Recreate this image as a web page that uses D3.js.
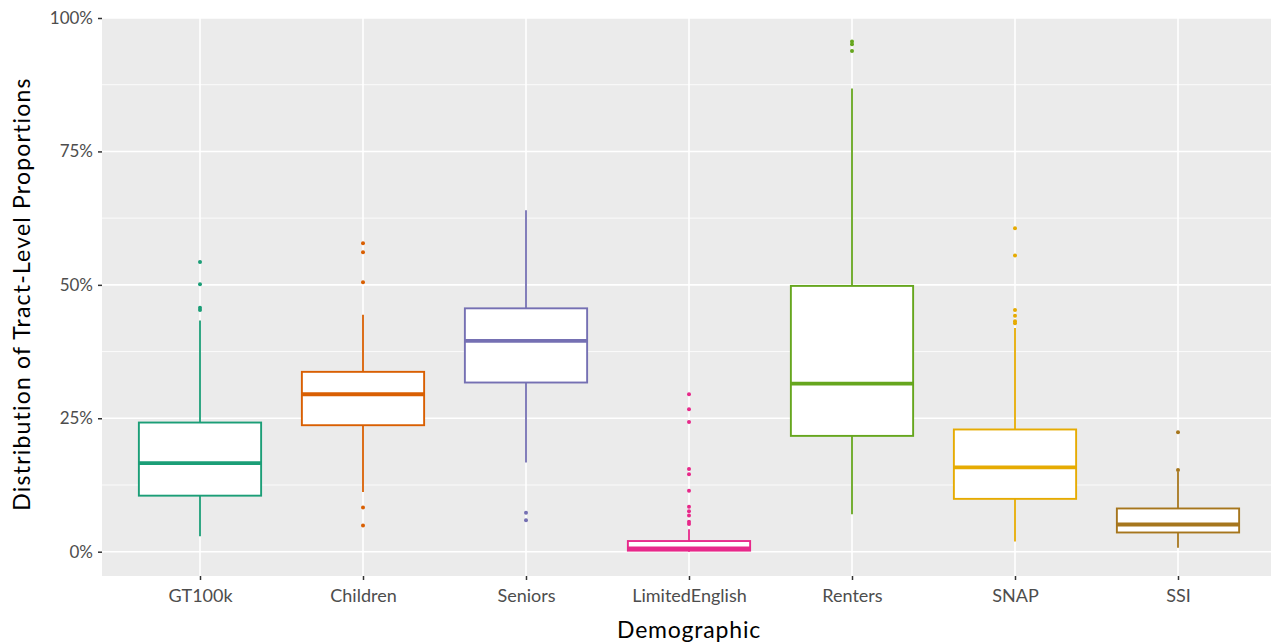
<!DOCTYPE html>
<html>
<head>
<meta charset="utf-8">
<script src="https://cdn.jsdelivr.net/npm/d3@7"></script>
<style>
  html, body { margin: 0; padding: 0; background: #fff; }
  svg { display: block; font-family: Lato, "Open Sans", sans-serif; }
</style>
</head>
<body>
<svg id="chart" width="1271" height="644"></svg>
<script>
// ---- data (proportions) ----
const categories = ["GT100k", "Children", "Seniors", "LimitedEnglish", "Renters", "SNAP", "SSI"];
const colors     = ["#1B9E77", "#D95F02", "#7570B3", "#E7298A", "#66A61E", "#E6AB02", "#A6761D"];
const whiskerLow = [0.029, 0.112, 0.167, 0.000, 0.070, 0.019, 0.0075];
const q1         = [0.105, 0.237, 0.317, 0.002, 0.217, 0.099, 0.036];
const median     = [0.166, 0.295, 0.395, 0.006, 0.315, 0.158, 0.051];
const q3         = [0.242, 0.337, 0.456, 0.020, 0.498, 0.229, 0.081];
const whiskerHigh= [0.433, 0.444, 0.640, 0.042, 0.868, 0.419, 0.150];
const outliers   = [
  [0.543, 0.501, 0.457, 0.453],
  [0.578, 0.561, 0.505, 0.083, 0.049],
  [0.073, 0.059],
  [0.295, 0.267, 0.243, 0.155, 0.145, 0.114, 0.084, 0.076, 0.068, 0.056, 0.052],
  [0.956, 0.951, 0.938],
  [0.606, 0.555, 0.453, 0.442, 0.432, 0.428],
  [0.224, 0.153]
];
const yTicks = [0, 0.25, 0.5, 0.75, 1];
const yMinor = [0.125, 0.375, 0.625, 0.875];

// ---- layout ----
const svg = d3.select("#chart");
const panel = { left: 102, right: 1276, top: 18, bottom: 576 };

const x = d3.scalePoint().domain(categories).range([200, 1178]);
const y = d3.scaleLinear().domain([0, 1]).range([551.7, 18]);
const boxW = x.step() * 0.75;

// panel background
svg.append("rect")
  .attr("x", panel.left).attr("y", panel.top)
  .attr("width", panel.right - panel.left).attr("height", panel.bottom - panel.top)
  .attr("fill", "#EBEBEB");

const grid = svg.append("g");
grid.selectAll(".minor").data(yMinor).join("line")
  .attr("x1", panel.left).attr("x2", panel.right)
  .attr("y1", d => y(d)).attr("y2", d => y(d))
  .attr("stroke", "#fff").attr("stroke-width", 0.8);
grid.selectAll(".major").data(yTicks).join("line")
  .attr("x1", panel.left).attr("x2", panel.right)
  .attr("y1", d => y(d)).attr("y2", d => y(d))
  .attr("stroke", "#fff").attr("stroke-width", 1.6);
grid.selectAll(".vx").data(categories).join("line")
  .attr("x1", d => x(d)).attr("x2", d => x(d))
  .attr("y1", panel.top).attr("y2", panel.bottom)
  .attr("stroke", "#fff").attr("stroke-width", 1.6);

// boxes
const idx = d3.range(categories.length);
const g = svg.append("g");
idx.forEach(i => {
  const cx = x(categories[i]);
  const c = colors[i];
  // whiskers
  g.append("line").attr("x1", cx).attr("x2", cx)
    .attr("y1", y(q3[i])).attr("y2", y(whiskerHigh[i]))
    .attr("stroke", c).attr("stroke-width", 1.8);
  g.append("line").attr("x1", cx).attr("x2", cx)
    .attr("y1", y(q1[i])).attr("y2", y(whiskerLow[i]))
    .attr("stroke", c).attr("stroke-width", 1.8);
  // box
  g.append("rect")
    .attr("x", cx - boxW / 2).attr("width", boxW)
    .attr("y", y(q3[i])).attr("height", Math.max(0, y(q1[i]) - y(q3[i])))
    .attr("fill", "#fff").attr("stroke", c).attr("stroke-width", 1.9);
  // median
  g.append("line")
    .attr("x1", cx - boxW / 2).attr("x2", cx + boxW / 2)
    .attr("y1", y(median[i])).attr("y2", y(median[i]))
    .attr("stroke", c).attr("stroke-width", 3.8);
  // outliers
  g.selectAll(null).data(outliers[i]).join("circle")
    .attr("cx", cx).attr("cy", d => y(d)).attr("r", 2)
    .attr("fill", c);
});

// y axis
const yAxis = svg.append("g").attr("transform", `translate(${panel.left},0)`)
  .call(d3.axisLeft(y).tickValues(yTicks).tickFormat(d3.format(".0%")).tickSize(4).tickPadding(5));
yAxis.select(".domain").remove();
yAxis.selectAll(".tick line").attr("stroke", "#333").attr("stroke-width", 1.5);
yAxis.selectAll(".tick text").attr("fill", "#4D4D4D").style("font-size", "17px")
  .style("font-family", "Lato, sans-serif");

// x axis
const xAxis = svg.append("g").attr("transform", `translate(0,${panel.bottom})`)
  .call(d3.axisBottom(x).tickSize(4).tickPadding(9));
xAxis.select(".domain").remove();
xAxis.selectAll(".tick line").attr("stroke", "#333").attr("stroke-width", 1.5);
xAxis.selectAll(".tick text").attr("fill", "#4D4D4D").style("font-size", "18px")
  .style("font-family", "Lato, sans-serif");

// titles
svg.append("text")
  .attr("x", (panel.left + panel.right) / 2).attr("y", 638)
  .attr("text-anchor", "middle").attr("fill", "#000")
  .style("font-size", "23px").style("letter-spacing", "0.8px")
  .style("font-family", "Lato, sans-serif")
  .text("Demographic");
svg.append("text")
  .attr("transform", `translate(30,${(panel.top + panel.bottom) / 2 - 3}) rotate(-90)`)
  .attr("text-anchor", "middle").attr("fill", "#000")
  .style("font-size", "23px").style("letter-spacing", "1.2px")
  .style("font-family", "Lato, sans-serif")
  .text("Distribution of Tract-Level Proportions");
</script>
</body>
</html>
